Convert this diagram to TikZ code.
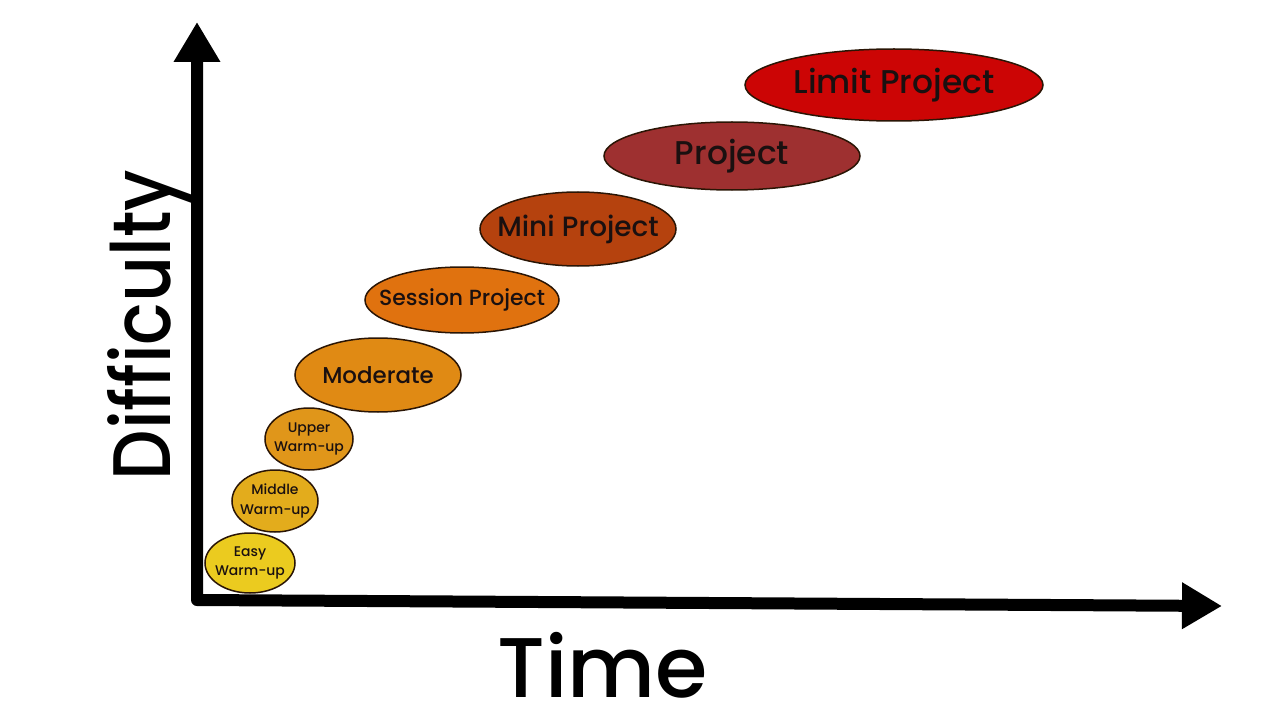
\documentclass[tikz,border=0pt]{standalone}
\usepackage{fontspec}
\setmainfont{Poppins}[UprightFont=* Medium]
\usetikzlibrary{shapes.geometric,arrows.meta}

\definecolor{ceasy}{HTML}{EBCB1F}
\definecolor{cmiddle}{HTML}{E3AC1C}
\definecolor{cupper}{HTML}{E0961A}
\definecolor{cmoderate}{HTML}{E08A14}
\definecolor{csession}{HTML}{E0720F}
\definecolor{cmini}{HTML}{B5420E}
\definecolor{cproject}{HTML}{9E3030}
\definecolor{climit}{HTML}{CC0505}
\definecolor{edge}{HTML}{2A1505}
\definecolor{ink}{HTML}{1A1010}

\begin{document}
\begin{tikzpicture}[x=1bp, y=-1bp, line cap=round,
                    stage/.style={ellipse, draw=edge, line width=1.5bp, inner sep=0pt},
                    stagetext/.style={inner sep=0pt, align=center, text=ink},
                    axis/.style={line width=12bp, line join=round, black}
                   ]
\useasboundingbox (0,0) rectangle (1280,720);

\coordinate (origin) at (197,600);
\coordinate (ytip) at (197,22);
\coordinate (xtip) at (1222,606);
\draw [axis, {Triangle[width=44bp,length=40bp]}-{Triangle[width=44bp,length=40bp]}]
    (ytip) -- (origin) -- (xtip);

\node (ylabel) [rotate=90, anchor=base, inner sep=0pt, font=\fontsize{82}{82}\selectfont]
    at (170,325) {\scalebox{0.87}[1]{Difficulty}};
\node (xlabel) [anchor=base, inner sep=0pt, font=\fontsize{85}{85}\selectfont]
    at (603,697) {Time};

% the stages, easy to hard
\foreach \nm/\cx/\cy/\w/\h/\fs/\txt in {
        easy/250/563/90/60/14/{Easy\\Warm-up},
        middle/275/501/86/62/14/{Middle\\Warm-up},
        upper/309/439/88/62/14/{Upper\\Warm-up},
        moderate/378/375/166/74/23/{Moderate},
        session/462/300/194/66/22/{Session Project},
        mini/578/229/196/74/28/{Mini Project},
        project/732/156/256/68/33/{Project},
        limit/894/85/298/72/33/{Limit Project}}{
    \node (\nm) [stage, fill=c\nm, minimum width=\w bp, minimum height=\h bp]
        at (\cx,\cy) {};
    \node (\nm-text) [stagetext, font=\fontsize{\fs}{20}\selectfont]
        at (\nm.center) {\txt};
}
\end{tikzpicture}
\end{document}
